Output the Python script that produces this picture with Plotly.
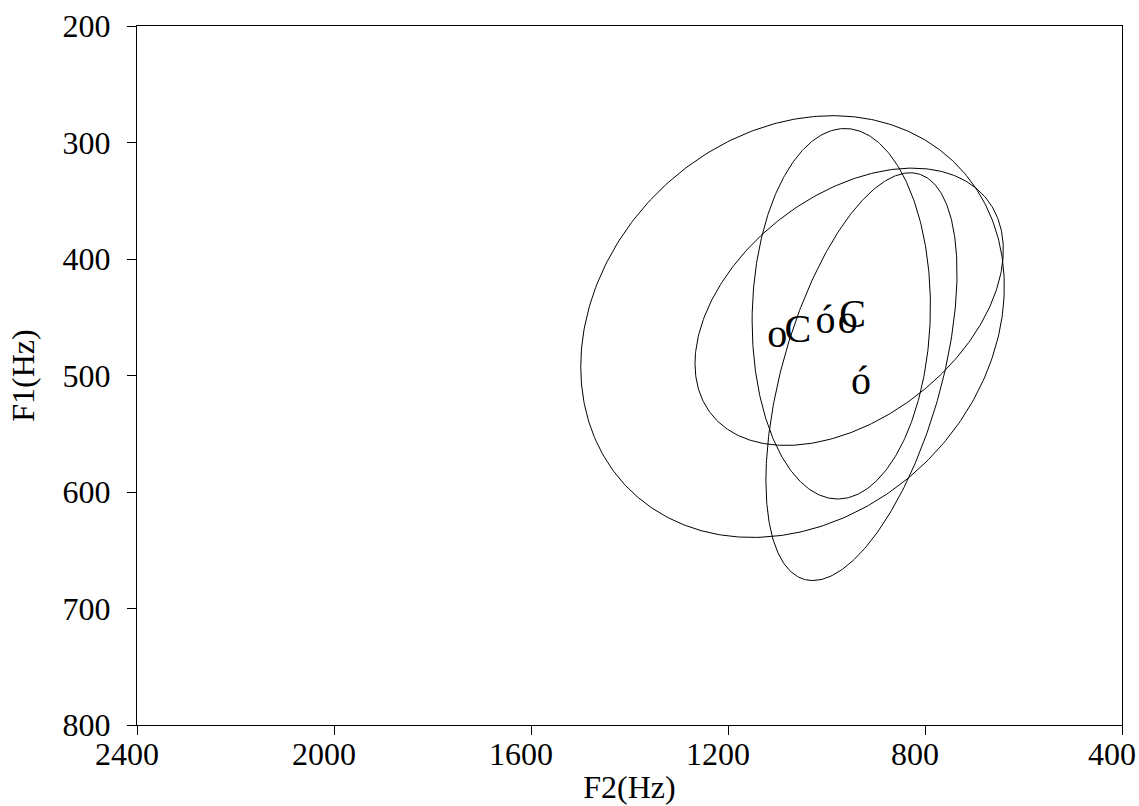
import numpy as np
import plotly.graph_objects as go

# Ellipse parameters (data units)
ell_f2_center = [1069, 970, 954, 929]
ell_f1_center = [458, 447, 441, 501]
ell_f2_half = [430, 181, 313, 194]
ell_f1_half = [181, 159, 119, 175]
ell_rho = [0.19, 0.04, 0.41, 0.51]

# Vowel labels
label_text = ["o", "C", "ó", "o", "C", "ó"]
label_f2 = [1100, 1058, 1002, 957, 947, 930]
label_f1 = [467, 463, 455, 455, 450, 507]

x_ticks = [2400, 2000, 1600, 1200, 800, 400]
y_ticks = [200, 300, 400, 500, 600, 700, 800]

FONT = "Liberation Serif"

fig = go.Figure()
t = np.linspace(0, 2 * np.pi, 400)
for cx, cy, w, h, r in zip(ell_f2_center, ell_f1_center, ell_f2_half, ell_f1_half, ell_rho):
    xs = cx + w * np.cos(t)
    ys = cy + h * (r * np.cos(t) + np.sqrt(1 - r * r) * np.sin(t))
    fig.add_trace(go.Scatter(x=xs, y=ys, mode="lines",
                             line=dict(color="black", width=1),
                             hoverinfo="skip", showlegend=False))

fig.add_trace(go.Scatter(x=label_f2, y=label_f1, mode="text", text=label_text,
                         textposition="middle center",
                         textfont=dict(family=FONT, size=40, color="black"),
                         showlegend=False))

axis_common = dict(showgrid=False, zeroline=False, showline=True, linecolor="black",
                   linewidth=1, mirror=True, ticks="outside", ticklen=9, tickwidth=1,
                   tickcolor="black", automargin=False,
                   tickfont=dict(family=FONT, size=32, color="black"))

fig.update_layout(
    width=1139, height=806,
    margin=dict(l=137, r=17, t=26, b=81),
    paper_bgcolor="white", plot_bgcolor="white",
    xaxis=dict(range=[2400, 400], tickvals=x_ticks, ticktext=[str(v) for v in x_ticks],
               title=dict(text="F2(Hz)", font=dict(family=FONT, size=32, color="black"), standoff=4),
               ticklabelshift=10, ticklabelstandoff=-8,
               **axis_common),
    yaxis=dict(range=[800, 200], tickvals=y_ticks, ticktext=[str(v) for v in y_ticks],
               title=dict(text="F1(Hz)", font=dict(family=FONT, size=32, color="black"), standoff=18),
               ticklabelstandoff=10,
               **axis_common),
)

fig.write_html("out.html")
